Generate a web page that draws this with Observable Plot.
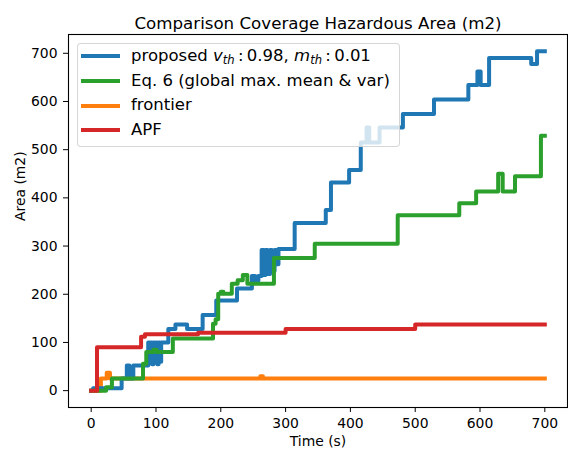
<!DOCTYPE html>
<html><head><meta charset="utf-8">
<script src="https://cdn.jsdelivr.net/npm/d3@7"></script>
<script src="https://cdn.jsdelivr.net/npm/@observablehq/plot@0.6"></script>
<style>
body{margin:0;background:#fff;font-family:"DejaVu Sans",sans-serif;}
#wrap{position:relative;width:568px;height:450px;}
#legend{position:absolute;left:77px;top:43px;width:323px;height:104px;box-sizing:border-box;border:1px solid rgba(204,204,204,0.8);border-radius:4px;background:rgba(255,255,255,0.8);}
.swatch{position:absolute;left:3px;width:39px;height:4px;}
.lab{position:absolute;left:53px;font-size:16.5px;line-height:1;white-space:nowrap;color:#000;}
.lab sub{font-size:0.7em;vertical-align:-0.3em;line-height:0;}
</style></head><body><div id="wrap"></div>
<script>
const title = "Comparison Coverage Hazardous Area (m2)";
const xLabel = "Time (s)";
const yLabel = "Area (m2)";
const xTicks = [0, 100, 200, 300, 400, 500, 600, 700];
const yTicks = [0, 100, 200, 300, 400, 500, 600, 700];

const proposedTime = [0,3,47,55,59,65,88,90,92,94,96,98,100,102,104,106,108,119,130,148,172,193,225,248,253,258,263,266,269,272,276,279,283,286,289,314,362,370,398,416,425,429,445,481,529,582,596,601,614,679,688,700];
const proposedArea = [0,5,25,52,25,52,100,60,100,55,100,60,100,55,100,60,100,128,137,128,157,187,212,238,228,238,292,240,292,242,292,248,292,262,294,348,375,432,458,515,546,515,546,574,604,634,662,634,690,678,704,704];

const eq6Time = [0,23,32,80,85,96,101,126,188,192,196,200,204,217,226,234,241,282,345,473,568,594,628,635,654,694,700];
const eq6Area = [0,7,25,56,80,85,80,108,139,148,201,205,201,222,229,240,222,275,305,364,389,413,450,413,445,529,529];

const frontierTime = [0,15,24,29,261,265,700];
const frontierArea = [0,25,37,25,30,25,25];

const apfTime = [0,9,77,83,165,300,500,700];
const apfArea = [0,90,112,117,120,128,137,137];

const seriesNames = ["proposed", "Eq. 6 (global max. mean & var)", "frontier", "APF"];
const seriesColors = ["#1f77b4", "#2ca02c", "#ff7f0e", "#d62728"];

const table = (name, ts, as) => ts.map((t, i) => ({series: name, time: t, area: as[i]}));
const dProposed = table(seriesNames[0], proposedTime, proposedArea);
const dEq6 = table(seriesNames[1], eq6Time, eq6Area);
const dFrontier = table(seriesNames[2], frontierTime, frontierArea);
const dApf = table(seriesNames[3], apfTime, apfArea);

const lineOpts = (c) => ({x: "time", y: "area", stroke: c, strokeWidth: 4, curve: "step-after", strokeLinejoin: "round", strokeLinecap: "square"});

const chart = Plot.plot({
  width: 568, height: 450,
  marginLeft: 68, marginRight: 1, marginTop: 34, marginBottom: 43,
  style: {fontFamily: "DejaVu Sans", fontSize: "13.9px", color: "black", background: "white"},
  x: {domain: [-35, 735], label: null},
  y: {domain: [-35, 739], label: null},
  marks: [
    Plot.line(dFrontier, lineOpts(seriesColors[2])),
    Plot.line(dProposed, lineOpts(seriesColors[0])),
    Plot.line(dEq6, lineOpts(seriesColors[1])),
    Plot.line(dApf, lineOpts(seriesColors[3])),
    Plot.frame({stroke: "black", strokeWidth: 1.1}),
    Plot.axisX(xTicks, {tickSize: 5, tickPadding: 6, fontSize: 13.9, label: null, stroke: "black"}),
    Plot.axisY(yTicks, {tickSize: 5, tickPadding: 6, fontSize: 13.9, label: null, stroke: "black"}),
    Plot.text([xLabel], {frameAnchor: "bottom", lineAnchor: "middle", dy: 34, text: d => d, fontSize: 13.9, fill: "black"}),
    Plot.text([yLabel], {frameAnchor: "left", lineAnchor: "middle", dx: -48, rotate: -90, text: d => d, fontSize: 13.9, fill: "black"}),
    Plot.text([title], {frameAnchor: "top", lineAnchor: "middle", dy: -11, text: d => d, fontSize: 16.67, fill: "black"})
  ]
});
const wrap = document.getElementById("wrap");
wrap.appendChild(chart);

// legend
const legend = document.createElement("div");
legend.id = "legend";
const rowCenters = [12.3, 37, 61.7, 86.3];
const labelsHtml = [
  'proposed <i>v</i><sub><i>th</i></sub>&#8201;:&#8201;0.98, <i>m</i><sub><i>th</i></sub>&#8201;:&#8201;0.01',
  seriesNames[1].replace("&", "&amp;"),
  seriesNames[2],
  seriesNames[3]
];
labelsHtml.forEach((h, i) => {
  const sw = document.createElement("div");
  sw.className = "swatch";
  sw.style.top = (rowCenters[i] - 2) + "px";
  sw.style.background = seriesColors[i];
  legend.appendChild(sw);
  const lb = document.createElement("div");
  lb.className = "lab";
  lb.style.top = (rowCenters[i] + 5.7 - 14) + "px";
  lb.innerHTML = h;
  legend.appendChild(lb);
});
wrap.appendChild(legend);
</script></body></html>
